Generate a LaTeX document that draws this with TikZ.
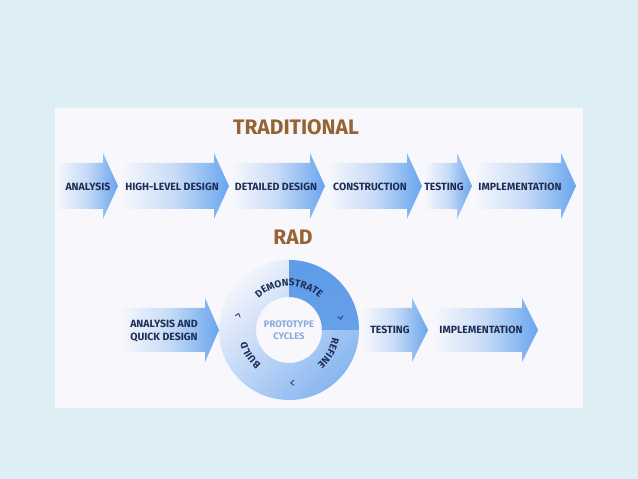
\documentclass[tikz,border=0pt]{standalone}
\usepackage{fontspec}
\setmainfont{Fira Sans}
\usetikzlibrary{decorations.text}

\begin{document}
\begin{tikzpicture}[x=1pt, y=1pt, font=\bfseries]
% Colors
\definecolor{bgblue}{RGB}{221,238,244}
\definecolor{panel}{RGB}{248,248,252}
\definecolor{arrowblue}{RGB}{105,165,238}
\definecolor{navy}{RGB}{30,45,85}
\definecolor{title}{RGB}{150,100,52}
\definecolor{ringlight}{RGB}{242,244,252}
\definecolor{ringmid}{RGB}{135,182,240}
\definecolor{ringdark}{RGB}{95,155,232}
\definecolor{proto}{RGB}{135,172,218}

\tikzset{
  flow/.style={draw=none, left color=panel, right color=arrowblue, middle color=arrowblue!35!panel},
  stage/.style={text=navy, font=\bfseries\fontsize{10.5}{12.5}\selectfont},
  heading/.style={text=title, font=\bfseries\fontsize{21}{24}\selectfont},
  ringtext/.style={decorate, decoration={text along path, text align=center, text color=navy,
    text={|\bfseries\fontsize{10}{10}\selectfont|#1}}},
  chev/.style={navy!80!arrowblue, line width=0.9pt, line cap=round}
}

% Background and panel
\fill[bgblue] (0,0) rectangle (638,479);
\fill[panel] (55,71) rectangle (583,371);

% Traditional
\node[heading] (trad) at (296,352) {TRADITIONAL};

\foreach \xa/\xh/\xt in {55/103/118, 121/214/229, 231/310/325, 327/407/422, 424/457/472, 474/561/576}{
  \path[flow] (\xa,270) -- (\xh,270) -- (\xh,260) -- (\xt,293) -- (\xh,326) -- (\xh,316) -- (\xa,316) -- cycle;
}
\node[stage] (ana) at (88,292) {ANALYSIS};
\node[stage] (hld) at (172,292) {HIGH-LEVEL DESIGN};
\node[stage] (dd) at (276,292) {DETAILED DESIGN};
\node[stage] (con) at (370,292) {CONSTRUCTION};
\node[stage] (tst) at (444,292) {TESTING};
\node[stage] (imp) at (520,292) {IMPLEMENTATION};

% RAD
\node[heading] (rad) at (293,242) {RAD};

\foreach \xa/\xh/\xt in {120/205/219, 362/412/428, 433/522/538}{
  \path[flow] (\xa,127) -- (\xh,127) -- (\xh,117) -- (\xt,149) -- (\xh,181) -- (\xh,171) -- (\xa,171) -- cycle;
}
\node[stage, align=left] (rana) at (164,148) {ANALYSIS AND\\QUICK DESIGN};
\node[stage] (rtst) at (390,149) {TESTING};
\node[stage] (rimp) at (481,149) {IMPLEMENTATION};

% Prototype cycle ring
\begin{scope}[shift={(289,149)}]
  \shade[even odd rule, top color=ringlight, bottom color=ringmid, shading angle=45]
    (0,0) circle (70) (0,0) circle (33);
  \shade[top color=ringdark, bottom color=ringdark!80!ringmid]
    (90:33) -- (90:70) arc[start angle=90, end angle=0, radius=70]
    -- (0:33) arc[start angle=0, end angle=90, radius=33] -- cycle;

  \path[ringtext=DEMONSTRATE] (165:44) arc[start angle=165, end angle=15, radius=44];
  \path[ringtext=REFINE] (20:44) arc[start angle=20, end angle=-80, radius=44];
  \path[ringtext=BUILD] (255:44) arc[start angle=255, end angle=171, radius=44];

  % direction marks
  \foreach \a in {163,13,-87}{
    \draw[chev, shift={(\a:53)}, rotate=\a-90] (-2,2.5) -- (1,0) -- (-2,-2.5);
  }

  \node[text=proto, font=\bfseries\fontsize{9.5}{12}\selectfont, align=center] (proto) at (0,0) {PROTOTYPE\\CYCLES};
\end{scope}

\end{tikzpicture}
\end{document}
